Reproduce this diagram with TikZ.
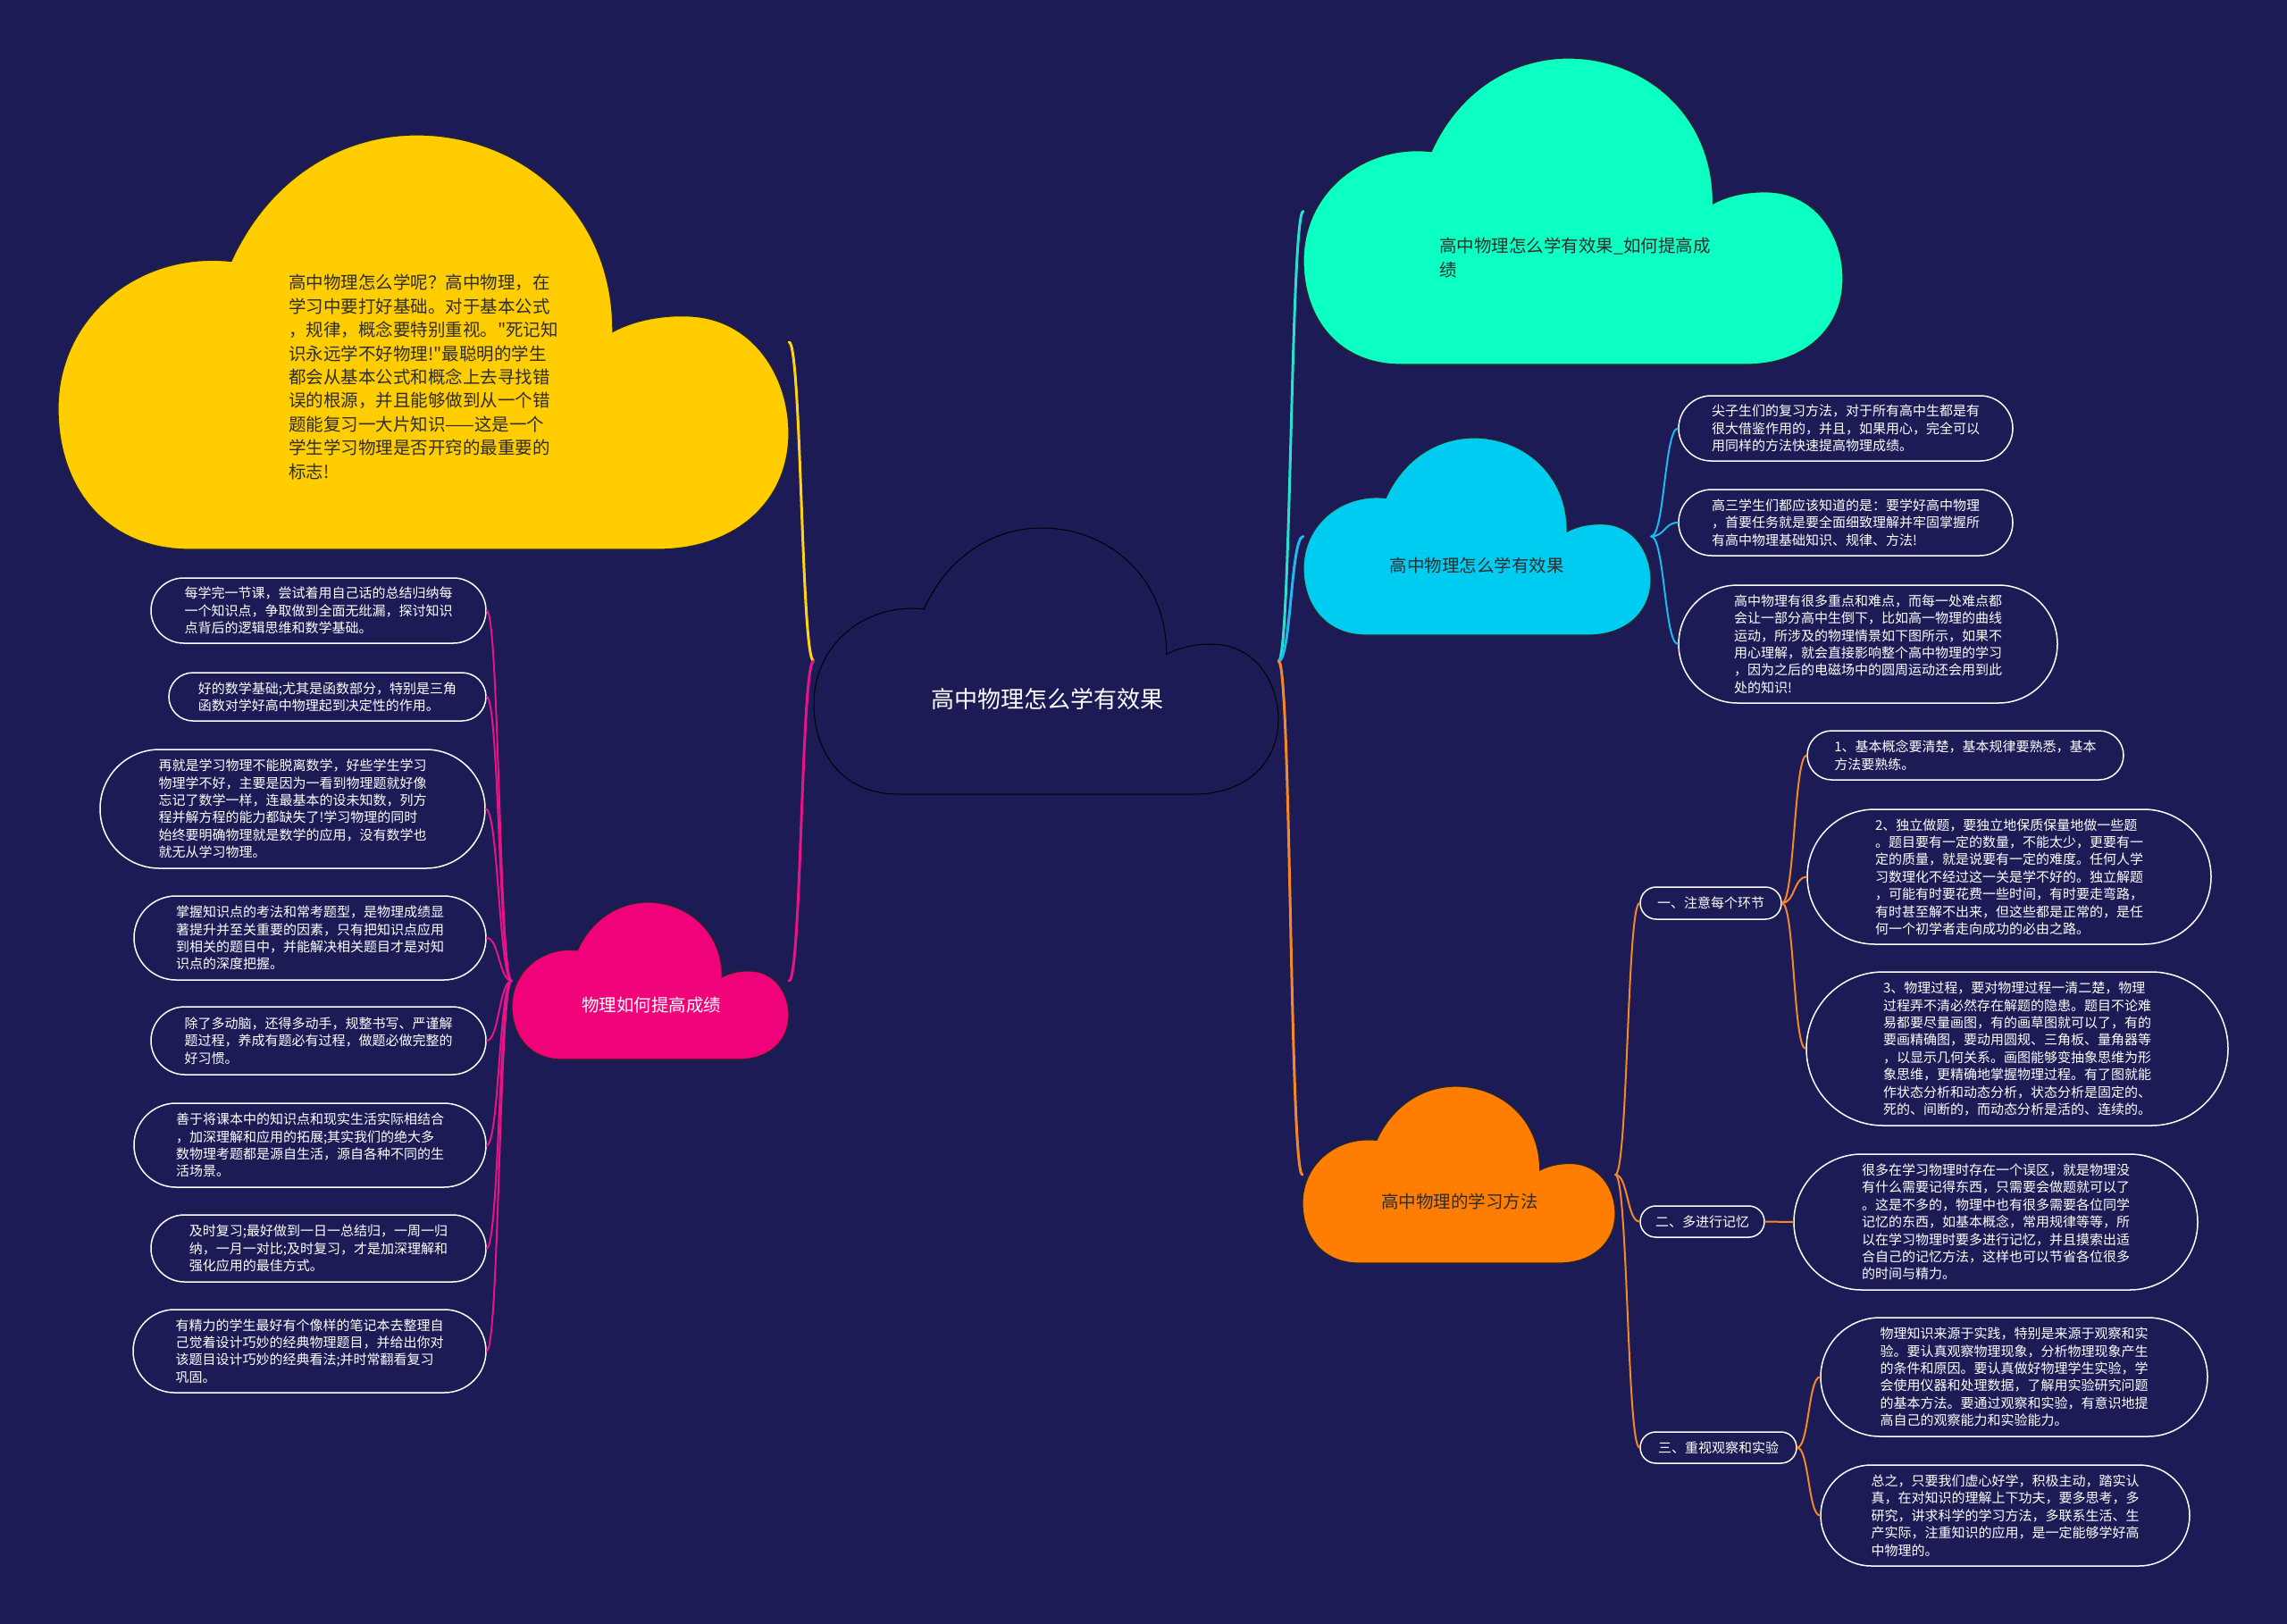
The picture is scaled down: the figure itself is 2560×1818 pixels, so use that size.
\documentclass[tikz,border=0pt]{standalone}
\usepackage{fontspec}
\newfontfamily\cjk{Noto Sans CJK SC}
\usetikzlibrary{shapes.misc}
\definecolor{bg}{RGB}{28,27,85}
\definecolor{cyellow}{RGB}{255,205,0}
\definecolor{cteal}{RGB}{12,255,195}
\definecolor{cblue}{RGB}{0,204,242}
\definecolor{cpink}{RGB}{240,2,122}
\definecolor{corange}{RGB}{255,125,0}
\definecolor{darktext}{RGB}{45,45,45}
\definecolor{lyellow}{RGB}{255,210,20}
\definecolor{lpink}{RGB}{232,20,135}
\definecolor{lteal}{RGB}{40,225,205}
\definecolor{lblue}{RGB}{30,185,240}
\definecolor{lorange}{RGB}{245,135,40}
\newcommand\cloudshape[5]{%
\draw[#1] ({#2+0.18*#4},{#3+#5})
 .. controls ({#2+0.07*#4},{#3+#5}) and ({#2},{#3+0.86*#5}) .. ({#2},{#3+0.66*#5})
 .. controls ({#2},{#3+0.44*#5}) and ({#2+0.11*#4},{#3+0.28*#5}) .. ({#2+0.237*#4},{#3+0.305*#5})
 .. controls ({#2+0.29*#4},{#3+0.1*#5}) and ({#2+0.39*#4},{#3}) .. ({#2+0.491*#4},{#3})
 .. controls ({#2+0.63*#4},{#3}) and ({#2+0.76*#4},{#3+0.18*#5}) .. ({#2+0.759*#4},{#3+0.475*#5})
 .. controls ({#2+0.79*#4},{#3+0.445*#5}) and ({#2+0.83*#4},{#3+0.435*#5}) .. ({#2+0.86*#4},{#3+0.437*#5})
 .. controls ({#2+0.95*#4},{#3+0.44*#5}) and ({#2+#4},{#3+0.58*#5}) .. ({#2+#4},{#3+0.72*#5})
 .. controls ({#2+#4},{#3+0.88*#5}) and ({#2+0.93*#4},{#3+#5}) .. ({#2+0.82*#4},{#3+#5})
 -- cycle;}
\tikzset{
  cloudline/.style={draw=black!85, line width=1.2pt},
  cbox/.style={inner sep=0pt, draw=none},
  cloudtext/.style={font=\cjk\fontsize{19.5}{26.4}\selectfont, align=left, inner sep=0pt},
  leaf/.style={rounded rectangle, draw=white, line width=1.5pt, fill=bg, text=white,
    font=\cjk\fontsize{15}{19.4}\selectfont, align=left, inner xsep=1pt, inner ysep=0pt},
  mainline/.style={line width=3pt, line cap=round},
  subline/.style={line width=2pt, line cap=round}
}
\begin{document}
\begin{tikzpicture}[x=1pt,y=-1pt]
\fill[bg] (0,0) rectangle (2560,1818);
\useasboundingbox (0,0) rectangle (2560,1818);

% clouds
\cloudshape{fill=cyellow, cloudline}{65}{151}{818}{464}
\cloudshape{fill=cteal, cloudline}{1459}{65}{604}{343}
\cloudshape{fill=cblue, cloudline}{1459}{490}{389}{221}
\cloudshape{fill=cpink, cloudline}{573}{1010}{310}{176}
\cloudshape{fill=bg, draw=black, line width=1pt}{911}{591}{520}{298}
\cloudshape{fill=corange, cloudline}{1458}{1216}{350}{198}

\node[cbox, minimum width=818pt, minimum height=464pt] (yc) at (474,383) {};
\node[cbox, minimum width=604pt, minimum height=343pt] (tc) at (1761,236.5) {};
\node[cbox, minimum width=389pt, minimum height=221pt] (bc) at (1653.5,600.5) {};
\node[cbox, minimum width=310pt, minimum height=176pt] (pc) at (728,1098) {};
\node[cbox, minimum width=520pt, minimum height=298pt] (cc) at (1171,740) {};
\node[cbox, minimum width=350pt, minimum height=198pt] (oc) at (1633,1315) {};

% cloud texts
\node[cloudtext, text=darktext, anchor=west] (ytxt) at (323,422) {高中物理怎么学呢？高中物理，在\\学习中要打好基础。对于基本公式\\，规律，概念要特别重视。"死记知\\识永远学不好物理!"最聪明的学生\\都会从基本公式和概念上去寻找错\\误的根源，并且能够做到从一个错\\题能复习一大片知识——这是一个\\学生学习物理是否开窍的最重要的\\标志!};
\node[cloudtext, text=darktext, anchor=west] (ttxt) at (1611,288.5) {高中物理怎么学有效果\_如何提高成\\绩};
\node[cloudtext, text=darktext] (btxt) at (1653,633) {高中物理怎么学有效果};
\node[cloudtext, text=white] (ptxt) at (729,1125) {物理如何提高成绩};
\node[cloudtext, text=white, font=\cjk\fontsize{26}{30}\selectfont] (ctxt) at (1172,783) {高中物理怎么学有效果};
\node[cloudtext, text=darktext] (otxt) at (1634,1345) {高中物理的学习方法};

% left leaves
\node[leaf, minimum width=377pt, minimum height=73pt] (L1) at (356.5,683.5) {每学完一节课，尝试着用自己话的总结归纳每\\一个知识点，争取做到全面无纰漏，探讨知识\\点背后的逻辑思维和数学基础。};
\node[leaf, minimum width=357pt, minimum height=54pt] (L2) at (366.5,780) {好的数学基础;尤其是函数部分，特别是三角\\函数对学好高中物理起到决定性的作用。};
\node[leaf, minimum width=433pt, minimum height=133pt] (L3) at (327.5,905.5) {再就是学习物理不能脱离数学，好些学生学习\\物理学不好，主要是因为一看到物理题就好像\\忘记了数学一样，连最基本的设未知数，列方\\程并解方程的能力都缺失了!学习物理的同时\\始终要明确物理就是数学的应用，没有数学也\\就无从学习物理。};
\node[leaf, minimum width=396pt, minimum height=94pt] (L4) at (347,1050) {掌握知识点的考法和常考题型，是物理成绩显\\著提升并至关重要的因素，只有把知识点应用\\到相关的题目中，并能解决相关题目才是对知\\识点的深度把握。};
\node[leaf, minimum width=377pt, minimum height=76pt] (L5) at (356.5,1165) {除了多动脑，还得多动手，规整书写、严谨解\\题过程，养成有题必有过程，做题必做完整的\\好习惯。};
\node[leaf, minimum width=396pt, minimum height=94pt] (L6) at (347,1282) {善于将课本中的知识点和现实生活实际相结合\\，加深理解和应用的拓展;其实我们的绝大多\\数物理考题都是源自生活，源自各种不同的生\\活场景。};
\node[leaf, minimum width=377pt, minimum height=75pt] (L7) at (356.5,1397.5) {及时复习;最好做到一日一总结归，一周一归\\纳，一月一对比;及时复习，才是加深理解和\\强化应用的最佳方式。};
\node[leaf, minimum width=397pt, minimum height=93pt] (L8) at (346.5,1512.5) {有精力的学生最好有个像样的笔记本去整理自\\己觉着设计巧妙的经典物理题目，并给出你对\\该题目设计巧妙的经典看法;并时常翻看复习\\巩固。};

% blue leaves
\node[leaf, minimum width=376pt, minimum height=73pt] (B1) at (2066,479.5) {尖子生们的复习方法，对于所有高中生都是有\\很大借鉴作用的，并且，如果用心，完全可以\\用同样的方法快速提高物理成绩。};
\node[leaf, minimum width=376pt, minimum height=74pt] (B2) at (2066,585) {高三学生们都应该知道的是：要学好高中物理\\，首要任务就是要全面细致理解并牢固掌握所\\有高中物理基础知识、规律、方法!};
\node[leaf, minimum width=426pt, minimum height=132pt] (B3) at (2091,721) {高中物理有很多重点和难点，而每一处难点都\\会让一部分高中生倒下，比如高一物理的曲线\\运动，所涉及的物理情景如下图所示，如果不\\用心理解，就会直接影响整个高中物理的学习\\，因为之后的电磁场中的圆周运动还会用到此\\处的知识!};

% orange categories
\node[leaf, minimum width=160pt, minimum height=36pt] (C1) at (1915,1011) {一、注意每个环节};
\node[leaf, minimum width=141pt, minimum height=35pt] (C2) at (1905.5,1367.5) {二、多进行记忆};
\node[leaf, minimum width=177pt, minimum height=35pt] (C3) at (1923.5,1620.5) {三、重视观察和实验};

% orange leaves
\node[leaf, minimum width=356pt, minimum height=55pt] (O1) at (2200,845.5) {1、基本概念要清楚，基本规律要熟悉，基本\\方法要熟练。};
\node[leaf, minimum width=454pt, minimum height=151pt] (O2) at (2249,981.5) {2、独立做题，要独立地保质保量地做一些题\\。题目要有一定的数量，不能太少，更要有一\\定的质量，就是说要有一定的难度。任何人学\\习数理化不经过这一关是学不好的。独立解题\\，可能有时要花费一些时间，有时要走弯路，\\有时甚至解不出来，但这些都是正常的，是任\\何一个初学者走向成功的必由之路。};
\node[leaf, minimum width=474pt, minimum height=172pt] (O3) at (2258,1174) {3、物理过程，要对物理过程一清二楚，物理\\过程弄不清必然存在解题的隐患。题目不论难\\易都要尽量画图，有的画草图就可以了，有的\\要画精确图，要动用圆规、三角板、量角器等\\，以显示几何关系。画图能够变抽象思维为形\\象思维，更精确地掌握物理过程。有了图就能\\作状态分析和动态分析，状态分析是固定的、\\死的、间断的，而动态分析是活的、连续的。};
\node[leaf, minimum width=454pt, minimum height=152pt] (O4) at (2234,1368) {很多在学习物理时存在一个误区，就是物理没\\有什么需要记得东西，只需要会做题就可以了\\。这是不多的，物理中也有很多需要各位同学\\记忆的东西，如基本概念，常用规律等等，所\\以在学习物理时要多进行记忆，并且摸索出适\\合自己的记忆方法，这样也可以节省各位很多\\的时间与精力。};
\node[leaf, minimum width=435pt, minimum height=133pt] (O5) at (2254.5,1541.5) {物理知识来源于实践，特别是来源于观察和实\\验。要认真观察物理现象，分析物理现象产生\\的条件和原因。要认真做好物理学生实验，学\\会使用仪器和处理数据，了解用实验研究问题\\的基本方法。要通过观察和实验，有意识地提\\高自己的观察能力和实验能力。};
\node[leaf, minimum width=415pt, minimum height=113pt] (O6) at (2244.5,1696.5) {总之，只要我们虚心好学，积极主动，踏实认\\真，在对知识的理解上下功夫，要多思考，多\\研究，讲求科学的学习方法，多联系生活、生\\产实际，注重知识的应用，是一定能够学好高\\中物理的。};

% main connectors
\draw[mainline, lyellow] (cc.west) .. controls +(-14,0) and +(14,0) .. (yc.east);
\draw[mainline, lpink] (cc.west) .. controls +(-14,0) and +(14,0) .. (pc.east);
\draw[mainline, lteal] (cc.east) .. controls +(14,0) and +(-14,0) .. (tc.west);
\draw[mainline, lblue] (cc.east) .. controls +(14,0) and +(-14,0) .. (bc.west);
\draw[mainline, lorange] (cc.east) .. controls +(14,0) and +(-14,0) .. (oc.west);

% pink sub connectors
\foreach \n in {L1,L2,L3,L4,L5,L6,L7,L8}
  \draw[subline, lpink] (pc.west) .. controls +(-14,0) and +(14,0) .. (\n.east);
% blue sub connectors
\foreach \n in {B1,B2,B3}
  \draw[subline, lblue] (bc.east) .. controls +(15,0) and +(-15,0) .. (\n.west);
% orange sub connectors
\foreach \n in {C1,C2,C3}
  \draw[subline, lorange] (oc.east) .. controls +(14,0) and +(-14,0) .. (\n.west);
\foreach \n in {O1,O2,O3}
  \draw[subline, lorange] (C1.east) .. controls +(14,0) and +(-14,0) .. (\n.west);
\draw[subline, lorange] (C2.east) .. controls +(15,0) and +(-15,0) .. (O4.west);
\foreach \n in {O5,O6}
  \draw[subline, lorange] (C3.east) .. controls +(13,0) and +(-13,0) .. (\n.west);
\end{tikzpicture}
\end{document}
